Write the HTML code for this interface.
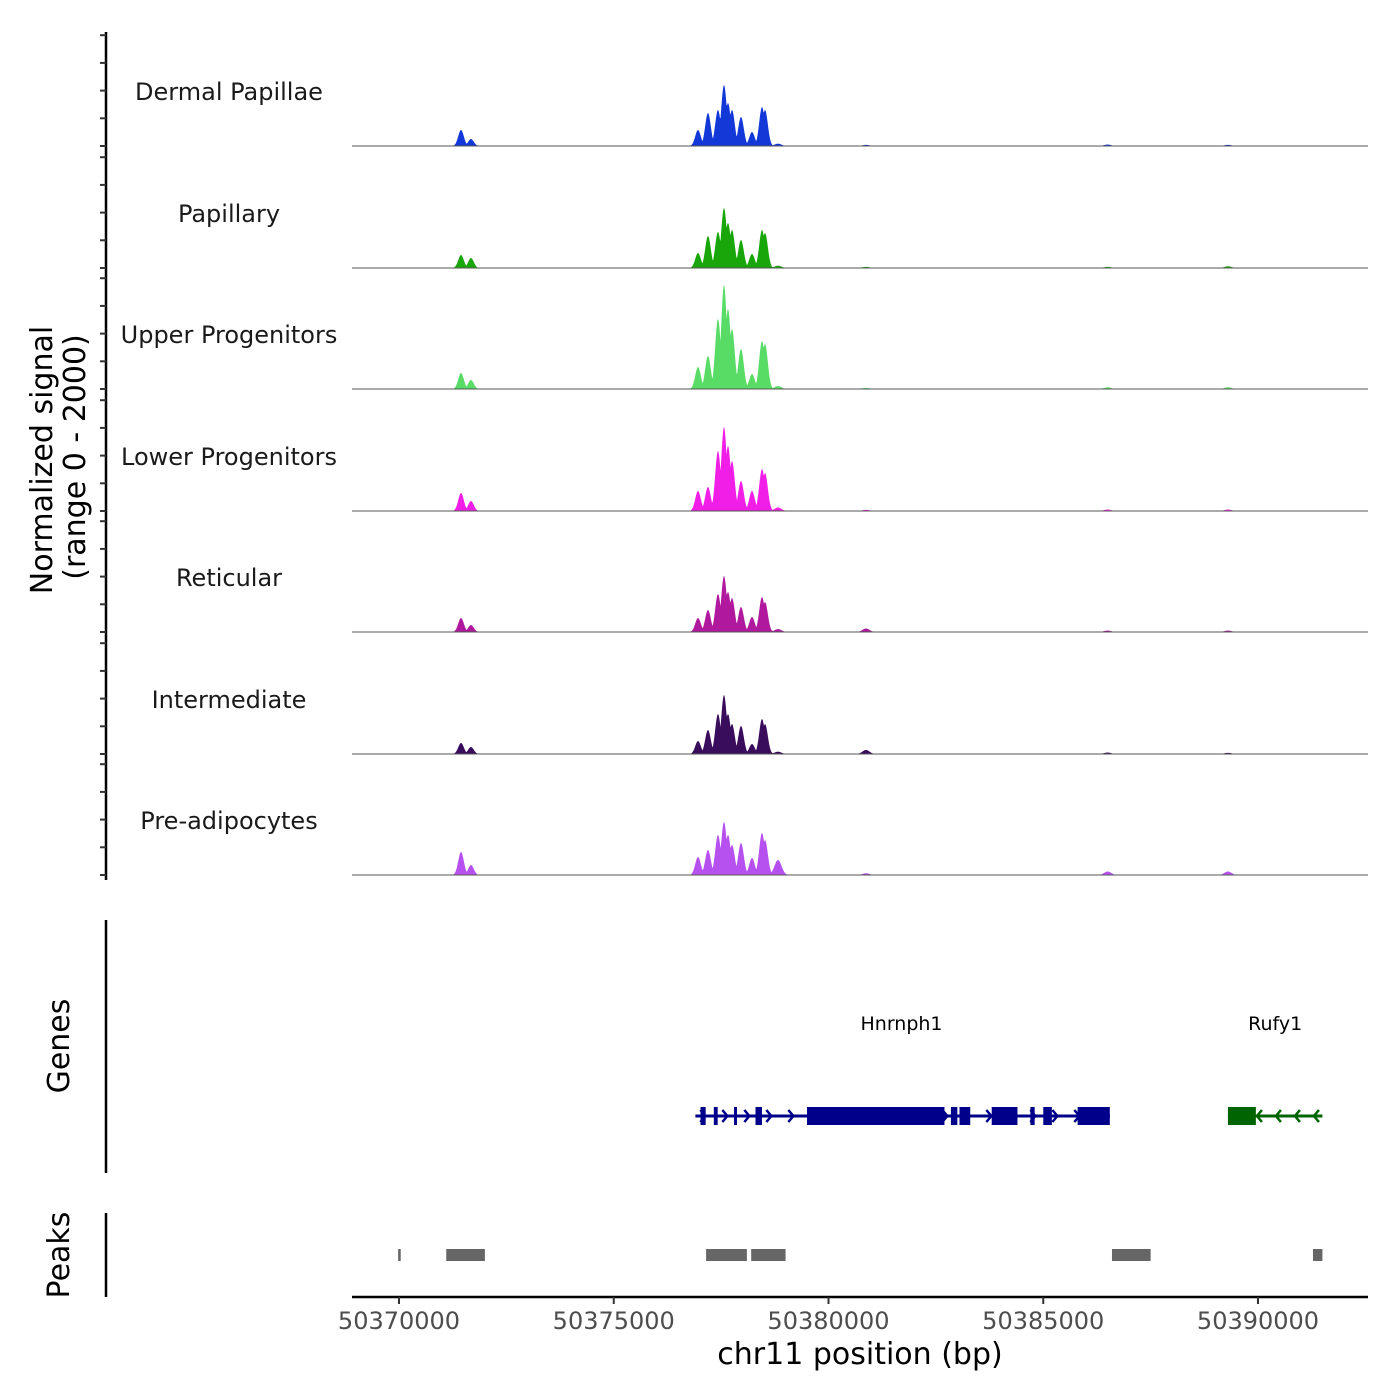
<!DOCTYPE html>
<html><head><meta charset="utf-8"><style>
html,body{margin:0;padding:0;background:#fff;}
svg{display:block;font-family:"DejaVu Sans","Liberation Sans",sans-serif;}
</style></head><body>
<svg id="chart" width="1400" height="1400" viewBox="0 0 1400 1400" xmlns="http://www.w3.org/2000/svg">
<rect width="1400" height="1400" fill="#fff"/>
<g id="tracks"></g>
<g id="axes"></g>
<g id="genes"></g>
<g id="peaks"></g>
<text transform="translate(52,460) rotate(-90)" text-anchor="middle" font-size="30" fill="#000">Normalized signal</text>
<text transform="translate(85,457) rotate(-90)" text-anchor="middle" font-size="30" fill="#000">(range 0 - 2000)</text>
<text transform="translate(69,1046) rotate(-90)" text-anchor="middle" font-size="30" fill="#000">Genes</text>
<text transform="translate(69,1255) rotate(-90)" text-anchor="middle" font-size="30" fill="#000">Peaks</text>
<text x="860" y="1364" text-anchor="middle" font-size="30" fill="#000">chr11 position (bp)</text>
</svg>
<script>
const trackNames = ["Dermal Papillae","Papillary","Upper Progenitors","Lower Progenitors","Reticular","Intermediate","Pre-adipocytes"];
const trackColors = ["#1238d8","#18a60a","#58dc66","#f01ee6","#b0189e","#3a0c5c","#b650ee"];
const peakCenters = [50371444,50371676,50376962,50377194,50377427,50377567,50377660,50377753,50377963,50378219,50378452,50378522,50378824,50380873,50386500,50389300];
// signal values (0-2000 scale) per track at each peak center
const sig0 = [276,121,276,569,621,1052,741,621,500,241,672,621,40,20,25,20];
const sig1 = [224,172,259,552,621,1034,776,655,483,241,655,603,40,20,20,30];
const sig2 = [276,155,379,569,1207,1793,1379,1034,690,259,828,776,50,20,30,30];
const sig3 = [310,172,345,414,1034,1448,1121,862,517,345,724,655,60,20,25,25];
const sig4 = [241,121,241,379,655,966,690,586,431,259,603,517,50,60,25,25];
const sig5 = [190,121,224,414,690,1017,690,517,483,172,603,517,40,70,25,20];
const sig6 = [397,172,310,431,690,914,690,517,552,293,724,603,259,30,60,60];
const signals = [sig0,sig1,sig2,sig3,sig4,sig5,sig6];
const xTicks = [50370000,50375000,50380000,50385000,50390000];
const geneLine = [[50376900,50386550],[50389300,50391500]];
const geneNames = ["Hnrnph1","Rufy1"];
const geneLabelPos = [50381700,50390400];
const geneColors = ["#00008b","#006400"];
const hExons = [[50377020,50377140],[50377330,50377420],[50377800,50377830],[50378300,50378450],[50379500,50382700],[50382850,50383000],[50383050,50383300],[50383800,50384400],[50384700,50384800],[50385000,50385200],[50385800,50386550]];
const rExons = [[50389300,50389950]];
const peakRegions = [[50369980,50370040],[50371100,50372000],[50377150,50378100],[50378200,50379000],[50386600,50387500],[50391280,50391500]];

const NS="http://www.w3.org/2000/svg";
function mk(tag,attrs,parent){const e=document.createElementNS(NS,tag);for(const k in attrs)e.setAttribute(k,attrs[k]);parent.appendChild(e);return e;}
const X0=399, PX=859/20000;
function xs(bp){return X0+(bp-50370000)*PX;}
const baseY=[146,268,389,511,632,754,875];
function ys(v,i){return baseY[i]-v*116/2000;}

const tracks=document.getElementById('tracks');
signals.forEach((arr,i)=>{
  const g=mk('g',{},tracks);
  
  
  let d='M352,'+baseY[i];
  for(let x=352;x<=1368;x+=0.5){
    let v=0;
    for(let k=0;k<peakCenters.length;k++){const dx=x-xs(peakCenters[k]);const s=(k>=12)?3.5:2.8;v=Math.max(v,arr[k]*Math.exp(-dx*dx/(2*s*s)));}
    d+=' L'+x+','+ys(v,i).toFixed(2);
  }
  d+=' L1368,'+baseY[i]+' Z';
  const p=mk('path',{d:d,fill:trackColors[i]},g);
  
  
  const bl=mk('line',{x1:352,x2:1368,y1:baseY[i],y2:baseY[i],stroke:'#555','stroke-width':1},g);
  
  
  const t=mk('text',{x:229,y:baseY[i]-46,'text-anchor':'middle','font-size':24,fill:'#1a1a1a'},g);
  t.textContent=trackNames[i];
  
  
});

const axes=document.getElementById('axes');
[[32,880],[920,1173],[1213,1297]].forEach(([a,b])=>{
  const l=mk('line',{x1:106,x2:106,y1:a,y2:b,stroke:'#000','stroke-width':2.5},axes);
  
  
});
baseY.forEach(b=>{for(let k=0;k<5;k++){const y=b-k*27.7;const t=mk('line',{x1:100,x2:106,y1:y,y2:y,stroke:'#333','stroke-width':2},axes);}});
const xl=mk('line',{x1:352,x2:1368,y1:1297,y2:1297,stroke:'#000','stroke-width':2.5},axes);


xTicks.forEach(v=>{
  const t=mk('line',{x1:xs(v),x2:xs(v),y1:1297,y2:1304,stroke:'#333','stroke-width':2},axes);
  
  
  const tx=mk('text',{x:xs(v),y:1329,'text-anchor':'middle','font-size':24,fill:'#4d4d4d'},axes);
  tx.textContent=String(v);
  
  
});

const genes=document.getElementById('genes');
const GY=1116;
[hExons,rExons].forEach((ex,gi)=>{
  const g=mk('g',{},genes);
  
  
  const c=geneColors[gi];
  const [s,e]=geneLine[gi];
  mk('line',{x1:xs(s),x2:xs(e),y1:GY,y2:GY,stroke:c,'stroke-width':3},g);
  const dir=gi===0?1:-1;
  for(let x=xs(s)+10;x<xs(e)-4;x+=gi===0?22:19){
    mk('polyline',{points:(x-5*dir)+','+(GY-6)+' '+x+','+GY+' '+(x-5*dir)+','+(GY+6),fill:'none',stroke:c,'stroke-width':2.5},g);
  }
  ex.forEach(([a,b])=>{mk('rect',{x:xs(a),y:GY-9,width:Math.max(3,xs(b)-xs(a)),height:18,fill:c},g);});
  const t=mk('text',{x:xs(geneLabelPos[gi]),y:1030,'text-anchor':'middle','font-size':19,fill:'#000'},g);
  t.textContent=geneNames[gi];
  
  
});

const peaks=document.getElementById('peaks');
peakRegions.forEach(([a,b])=>{
  const r=mk('rect',{x:xs(a),y:1249,width:Math.max(2,xs(b)-xs(a)),height:12,fill:'#666'},peaks);
  
  
});
</script>
</body></html>
